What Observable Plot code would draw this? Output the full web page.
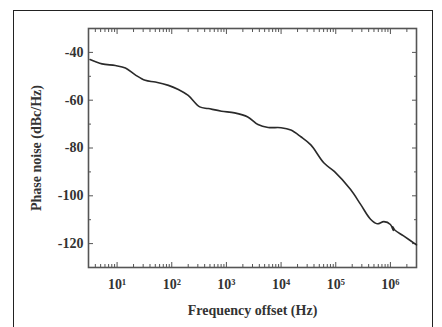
<!DOCTYPE html>
<html>
<head>
<meta charset="utf-8">
<script src="https://cdn.jsdelivr.net/npm/d3@7"></script>
<script src="https://cdn.jsdelivr.net/npm/@observablehq/plot@0.6"></script>
<style>
  html, body { margin: 0; padding: 0; background: #fff; }
  #wrap { position: relative; width: 442px; height: 327px; overflow: hidden; }
  #border { position: absolute; left: 13px; top: 10px; width: 420px; height: 400px; border: 1px solid #222; box-sizing: border-box; }
  #chart { position: absolute; left: 0; top: 0; }
</style>
</head>
<body>
<div id="wrap"><div id="border"></div><div id="chart"></div></div>
<script>
const freq = [3.2, 5.3, 9.3, 14.2, 21.5, 32.7, 50, 87, 132, 200, 325, 465, 815, 1410, 2460, 3780, 5800, 10000, 15100, 23000, 35000, 61000, 94000, 187000, 285000, 433000, 575000, 760000, 1000000, 1130000, 1100000, 1200000, 1740000, 3000000];
const noise = [-43, -44.8, -45.5, -46.5, -49.4, -51.7, -52.4, -53.8, -55.5, -58, -62.8, -63.5, -64.6, -65.3, -67, -70.2, -71.4, -71.5, -72.5, -75.3, -78.7, -86.3, -89.8, -97.4, -103.6, -109.8, -111.7, -110.8, -112, -114.5, -113, -114.3, -116.8, -120.5];
const xTickValues = [10, 100, 1000, 10000, 100000, 1000000];
const xTickLabels = ["10¹", "10²", "10³", "10⁴", "10⁵", "10⁶"];
const yTickValues = [-120, -100, -80, -60, -40];
const yTickLabels = ["-120", "-100", "-80", "-60", "-40"];
const yMinorValues = [-130, -110, -90, -70, -50, -30];

const data = freq.map((f, i) => ({f, n: noise[i]}));
const xMinor = [];
for (let e = 0; e <= 6; e++) for (let m = 2; m <= 9; m++) { const v = m * 10 ** e; if (v >= 3 && v <= 3e6) xMinor.push(v); }

const ink = "#333";
const tickStroke = "#555";
const none = () => "";
const chart = Plot.plot({
  width: 442, height: 327,
  marginLeft: 88, marginRight: 26, marginTop: 28, marginBottom: 60,
  style: {fontFamily: "'Liberation Serif', 'Times New Roman', serif", fontWeight: "bold", fontSize: "14px", color: ink, background: "transparent"},
  x: {type: "log", domain: [3, 3e6], axis: null},
  y: {domain: [-130, -30], axis: null},
  marks: [
    Plot.frame({stroke: "#555", strokeWidth: 1.6}),
    // labels
    Plot.axisX({ticks: xTickValues, anchor: "bottom", tickSize: 0, tickPadding: 12, tickFormat: d => xTickLabels[xTickValues.indexOf(d)], label: "Frequency offset (Hz)", labelAnchor: "center", labelOffset: 47, labelArrow: "none", fontSize: 14}),
    Plot.axisY({ticks: yTickValues, anchor: "left", tickSize: 0, tickPadding: 5, tickFormat: d => yTickLabels[yTickValues.indexOf(d)], label: "Phase noise (dBc/Hz)", labelAnchor: "center", labelOffset: 57, labelArrow: "none", fontSize: 14}),
    // inward ticks
    Plot.axisX({ticks: xTickValues, anchor: "bottom", tickSize: -5, tickFormat: none, label: null, stroke: tickStroke}),
    Plot.axisX({ticks: xTickValues, anchor: "top", tickSize: -5, tickFormat: none, label: null, stroke: tickStroke}),
    Plot.axisX({ticks: xMinor, anchor: "bottom", tickSize: -3, tickFormat: none, label: null, stroke: tickStroke}),
    Plot.axisX({ticks: xMinor, anchor: "top", tickSize: -3, tickFormat: none, label: null, stroke: tickStroke}),
    Plot.axisY({ticks: yTickValues, anchor: "left", tickSize: -5, tickFormat: none, label: null, stroke: tickStroke}),
    Plot.axisY({ticks: yTickValues, anchor: "right", tickSize: -5, tickFormat: none, label: null, stroke: tickStroke}),
    Plot.axisY({ticks: yMinorValues, anchor: "left", tickSize: -3, tickFormat: none, label: null, stroke: tickStroke}),
    Plot.axisY({ticks: yMinorValues, anchor: "right", tickSize: -3, tickFormat: none, label: null, stroke: tickStroke}),
    Plot.line(data, {x: "f", y: "n", stroke: "#2a2a2a", strokeWidth: 1.6, curve: "catmull-rom"})
  ]
});
document.getElementById("chart").appendChild(chart);
</script>
</body>
</html>
